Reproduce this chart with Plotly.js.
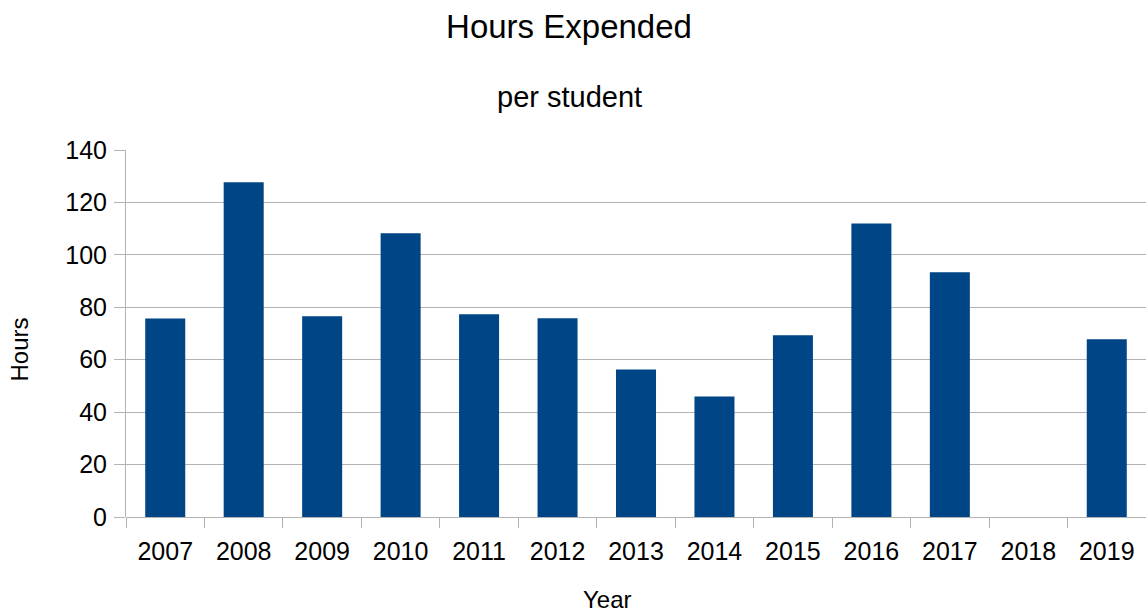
<!DOCTYPE html>
<html>
<head>
<meta charset="utf-8">
<script src="https://cdn.plot.ly/plotly-3.0.1.min.js"></script>
<style>
  html, body { margin: 0; padding: 0; background: #fff; }
  #chart { width: 1146px; height: 613px; }
</style>
</head>
<body>
<div id="chart"></div>
<script>
// Hours expended per student, by year (no figure recorded for 2018)
const years = ['2007', '2008', '2009', '2010', '2011', '2012', '2013',
               '2014', '2015', '2016', '2017', '2018', '2019'];
const hours = [75.7, 127.7, 76.6, 108.2, 77.3, 75.8, 56.3,
               46.0, 69.3, 112.0, 93.4, null, 67.8];
const yTicks = [0, 20, 40, 60, 80, 100, 120, 140];

const FONT = 'Liberation Sans, Arial, sans-serif';
const GRID = '#b3b3b3';

const trace = {
  type: 'bar',
  x: years,
  y: hours,
  marker: { color: '#004586' },
  hoverinfo: 'x+y'
};

// plot area in pixels: left 126, width 1020, top 150, height 367
const PL = 126, PW = 1020, PB = 517, PH = 367;
const px = v => (v - PL) / PW;
const py = v => (PB - v) / PH;

const layout = {
  width: 1146,
  height: 613,
  paper_bgcolor: '#ffffff',
  plot_bgcolor: '#ffffff',
  margin: { l: 126, r: 0, t: 150, b: 96 },
  font: { family: FONT, color: '#000000', size: 24 },
  showlegend: false,
  bargap: 0.49,
  title: {
    text: 'Hours Expended',
    font: { family: FONT, size: 33, color: '#000000' },
    xref: 'paper',
    x: px(569), xanchor: 'center',
    y: 1 - 26 / 613, yanchor: 'middle', yref: 'container'
  },
  annotations: [
    {
      text: 'per student',
      xref: 'paper', yref: 'paper',
      x: px(569), xanchor: 'center',
      y: py(97), yanchor: 'middle',
      showarrow: false,
      font: { family: FONT, size: 29, color: '#000000' }
    },
    {
      // x-axis title
      text: 'Year',
      xref: 'paper', yref: 'paper',
      x: px(607), xanchor: 'center',
      y: py(599), yanchor: 'middle',
      showarrow: false,
      font: { family: FONT, size: 24, color: '#000000' }
    },
    {
      // y-axis title
      text: 'Hours',
      xref: 'paper', yref: 'paper',
      x: px(19), xanchor: 'center',
      y: py(349.5), yanchor: 'middle',
      textangle: -90,
      showarrow: false,
      font: { family: FONT, size: 24, color: '#000000' }
    }
  ],
  xaxis: {
    type: 'category',
    categoryorder: 'array',
    categoryarray: years,
    tickson: 'boundaries',
    ticks: 'outside',
    ticklen: 10,
    tickcolor: GRID,
    tickwidth: 1,
    showgrid: false,
    showline: false,
    tickfont: { family: FONT, size: 25, color: '#000000' },
    ticklabelstandoff: 17
  },
  yaxis: {
    range: [0, 140],
    tickvals: yTicks,
    ticktext: yTicks.map(String),
    ticks: 'outside',
    ticklen: 11,
    tickcolor: GRID,
    tickwidth: 1,
    showgrid: true,
    gridcolor: GRID,
    gridwidth: 1,
    zeroline: true,
    zerolinecolor: GRID,
    zerolinewidth: 1,
    showline: true,
    linecolor: GRID,
    linewidth: 1,
    tickfont: { family: FONT, size: 25, color: '#000000' },
    ticklabelstandoff: 2
  }
};

Plotly.newPlot('chart', [trace], layout, { displayModeBar: false, staticPlot: true });
</script>
</body>
</html>
